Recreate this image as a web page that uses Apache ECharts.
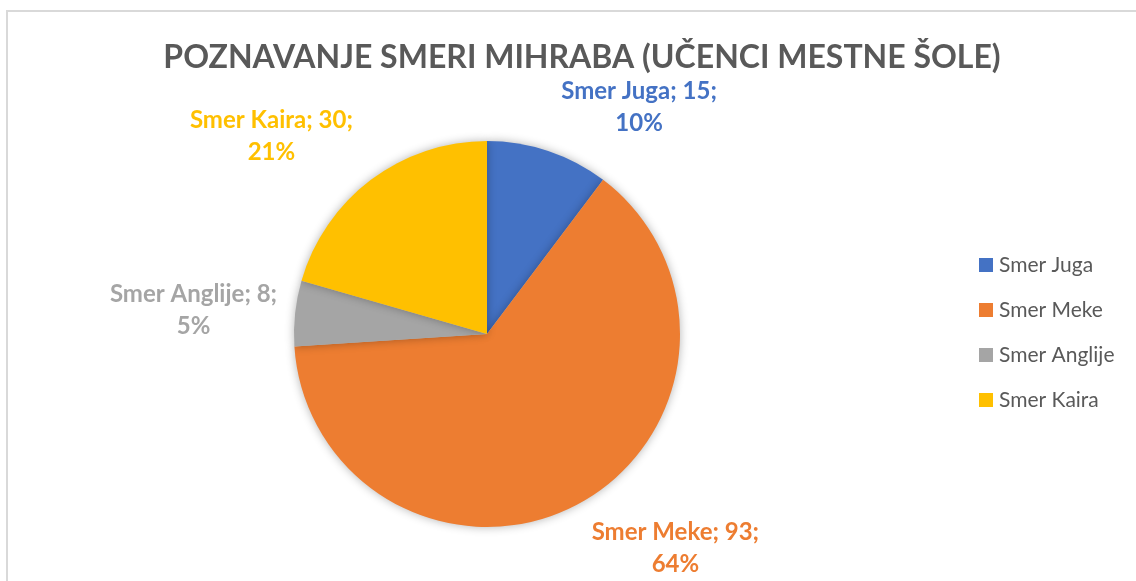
<!DOCTYPE html>
<html>
<head>
<meta charset="utf-8">
<script src="https://cdn.jsdelivr.net/npm/echarts@6/dist/echarts.min.js"></script>
<style>
html,body{margin:0;padding:0;background:#fff;}
#chart{width:1136px;height:581px;}
</style>
</head>
<body>
<div id="chart"></div>
<script>
const titleText = 'POZNAVANJE SMERI MIHRABA (UČENCI MESTNE ŠOLE)';
const categories = ['Smer Juga', 'Smer Meke', 'Smer Anglije', 'Smer Kaira'];
const values = [15, 93, 8, 30];
const colors = ['#4472C4', '#ED7D31', '#A5A5A5', '#FFC000'];

const CX = 487, CY = 334, R = 193;
const total = values.reduce((a, b) => a + b, 0);
const midAngles = [];
(function () {
  let cum = 0;
  values.forEach(v => {
    midAngles.push((90 - (cum + v / 2) / total * 360) * Math.PI / 180);
    cum += v;
  });
})();

const FONT = 'Lato';
const chart = echarts.init(document.getElementById('chart'));
chart.setOption({
  animation: false,
  color: colors,
  graphic: [{
    type: 'rect', silent: true, z: -10,
    shape: { x: 7, y: 11, width: 1200, height: 700 },
    style: { fill: 'none', stroke: '#d9d9d9', lineWidth: 2 }
  }],
  title: {
    text: titleText,
    left: 577, top: 37, textAlign: 'center',
    textStyle: { fontFamily: FONT, fontWeight: 'bold', fontSize: 32, color: '#595959' }
  },
  legend: {
    orient: 'vertical', left: 979, top: 254, padding: 0,
    itemWidth: 14, itemHeight: 14, itemGap: 23,
    icon: 'rect',
    textStyle: { fontFamily: FONT, fontSize: 21, color: '#595959', lineHeight: 22, padding: [0, 0, 0, 1] },
    data: categories
  },
  series: [{
    type: 'pie',
    center: [CX, CY], radius: R,
    startAngle: 90, clockwise: true,
    itemStyle: { shadowBlur: 10, shadowColor: 'rgba(0,0,0,0.3)' },
    emphasis: { disabled: true },
    labelLine: { show: false },
    label: {
      show: true, position: 'outside',
      fontFamily: FONT, fontWeight: 'bold', fontSize: 24, lineHeight: 32,
      color: 'inherit',
      formatter: p => p.name + '; ' + p.value + ';\n' + Math.round(p.percent) + '%'
    },
    labelLayout: function (p) {
      const a = midAngles[p.dataIndex];
      const c = Math.cos(a), s = Math.sin(a);
      const ex = CX + R * c, ey = CY - R * s;
      const w = p.labelRect.width, h = p.labelRect.height;
      const x = c >= 0 ? ex + 13 + w / 2 : ex - 18 - w / 2;
      let y;
      if (Math.abs(s) < 0.3) y = ey - 3;
      else if (s > 0) y = ey - 12 - h / 2;
      else y = ey + 12 + h / 2;
      return { x: x, y: y, align: 'center', verticalAlign: 'middle' };
    },
    data: categories.map((n, i) => ({ name: n, value: values[i] }))
  }]
});
</script>
</body>
</html>
